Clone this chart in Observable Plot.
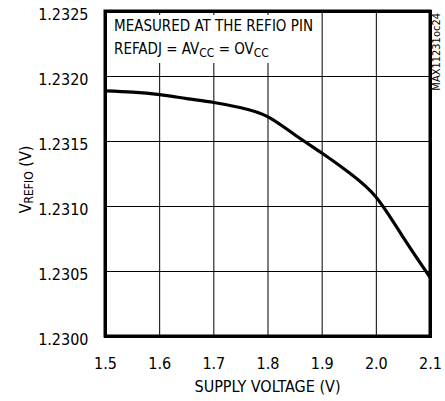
<!DOCTYPE html>
<html>
<head>
<meta charset="utf-8">
<script src="https://cdn.jsdelivr.net/npm/d3@7"></script>
<script src="https://cdn.jsdelivr.net/npm/@observablehq/plot@0.6"></script>
<style>
  html, body { margin: 0; padding: 0; background: #fff; }
  #chart { width: 445px; height: 401px; }
</style>
</head>
<body>
<div id="chart"></div>
<script>
const supplyVoltage = [1.50, 1.55, 1.60, 1.65, 1.70, 1.75, 1.80, 1.85, 1.90, 1.95, 2.00, 2.05, 2.10];
const vRefio = [1.23189, 1.23188, 1.23186, 1.23183, 1.23180, 1.23176, 1.23169, 1.23155, 1.23141, 1.23126, 1.23107, 1.23076, 1.23045];
const xTicks = [1.5, 1.6, 1.7, 1.8, 1.9, 2.0, 2.1];
const yTicks = [1.2300, 1.2305, 1.2310, 1.2315, 1.2320, 1.2325];
const xLabel = "SUPPLY VOLTAGE (V)";
const yLabelMain = "V", yLabelSub = "REFIO", yLabelTail = " (V)";
const noteLine1 = "MEASURED AT THE REFIO PIN";
const noteLine2 = [["REFADJ = AV", false], ["CC", true], [" = OV", false], ["CC", true]];
const partId = "MAX11231oc24";

(function () {
const data = supplyVoltage.map((x, i) => ({x, y: vRefio[i]}));
const font = "'Liberation Sans Narrow', 'Arial Narrow', 'DejaVu Sans Condensed', sans-serif";

const plot = Plot.plot({
  width: 445,
  height: 401,
  marginLeft: 105,
  marginRight: 15,
  marginTop: 11,
  marginBottom: 65,
  style: {fontFamily: font, fontSize: "16px", color: "#000", background: "#fff"},
  x: {domain: [1.5, 2.1]},
  y: {domain: [1.2300, 1.2325]},
  marks: [
    Plot.gridX(xTicks, {stroke: "#000", strokeOpacity: 1, strokeWidth: 1}),
    Plot.gridY(yTicks, {stroke: "#000", strokeOpacity: 1, strokeWidth: 1}),
    Plot.axisX(xTicks, {tickSize: 0, tickPadding: 21, tickFormat: d3.format(".1f"), label: null, fontSize: 16}),
    Plot.axisY(yTicks, {tickSize: 0, tickPadding: 17, tickFormat: d3.format(".4f"), label: null, fontSize: 16, dy: 3}),
    Plot.line(data, {x: "x", y: "y", curve: "natural", stroke: "#000", strokeWidth: 3.2}),
    Plot.frame({stroke: "#000", strokeWidth: 3})
  ]
});
document.getElementById("chart").appendChild(plot);

const svg = d3.select(plot);
const sx = plot.scale("x"), sy = plot.scale("y");
const x0 = sx.apply(1.5), x1 = sx.apply(2.1), y0 = sy.apply(1.2325), y1 = sy.apply(1.2300);

const note = svg.append("g").attr("font-family", font).attr("font-size", 15)
  .attr("fill", "#000").attr("text-anchor", "start");
note.append("text").attr("x", x0 + 9).attr("y", y0 + 20).text(noteLine1);
const t2 = note.append("text").attr("x", x0 + 9).attr("y", y0 + 43);
noteLine2.forEach(([s, sub], i) => {
  const ts = t2.append("tspan").text(s);
  if (sub) ts.attr("font-size", 12).attr("dy", 3);
  else if (i > 0) ts.attr("dy", -3);
});
const bb = note.node().getBBox();
note.insert("rect", "text")
  .attr("x", x0 + 2).attr("y", y0 + 4)
  .attr("width", Math.max(0, bb.x + bb.width + 4 - x0 - 2))
  .attr("height", Math.max(0, bb.y + bb.height + 3 - y0 - 4))
  .attr("fill", "#fff");
svg.append("rect").attr("x", x0).attr("y", y0).attr("width", x1 - x0).attr("height", y1 - y0)
  .attr("fill", "none").attr("stroke", "#000").attr("stroke-width", 3);

svg.append("text").attr("x", (x0 + x1) / 2).attr("y", 392)
  .attr("text-anchor", "middle").attr("font-family", font).attr("font-size", 16).text(xLabel);

const yl = svg.append("text").attr("transform", `translate(31,${(y0 + y1) / 2 + 6}) rotate(-90)`)
  .attr("text-anchor", "middle").attr("font-family", font).attr("font-size", 16);
yl.append("tspan").text(yLabelMain);
yl.append("tspan").attr("font-size", 12).attr("dy", 2).text(yLabelSub);
yl.append("tspan").attr("dy", -2).text(yLabelTail);

svg.append("text").attr("transform", `translate(${x1 + 10},${y0 + 2}) rotate(-90)`)
  .attr("text-anchor", "end").attr("font-family", font).attr("font-size", 11).text(partId);
})();
</script>
</body>
</html>
